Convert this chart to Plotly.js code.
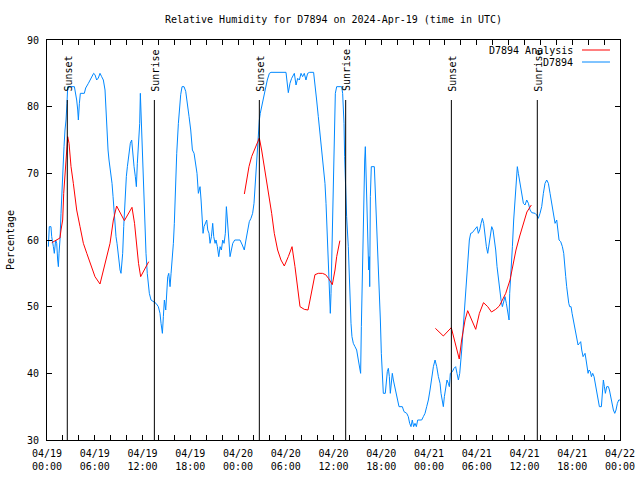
<!DOCTYPE html>
<html><head><meta charset="utf-8">
<script src="https://cdn.plot.ly/plotly-3.0.1.min.js"></script>
<style>html,body{margin:0;padding:0;background:#fff}#chart{width:640px;height:480px}</style>
</head><body><div id="chart"></div>
<script>
// Hours since 2024-04-19 00:00 UTC
const obsHours = [0.17,0.29,0.5,0.59,0.8,0.92,1.09,1.22,1.34,1.43,1.51,1.63,1.76,1.84,1.97,2.05,2.14,2.26,2.39,2.51,2.6,3.44,3.52,3.73,3.86,3.94,4.07,4.19,4.69,4.86,5.2,5.61,5.86,6.03,6.24,6.45,6.66,6.87,7.08,7.29,7.42,7.54,7.67,7.79,7.92,8.04,8.17,8.3,8.42,8.55,8.67,8.8,8.92,9.05,9.18,9.3,9.39,9.51,9.64,9.72,9.85,9.97,10.1,10.22,10.35,10.47,10.64,10.77,10.94,11.1,11.23,11.35,11.48,11.65,11.73,11.86,11.98,12.1,12.23,12.32,12.44,12.6,12.74,12.86,13.07,13.28,13.7,13.99,14.2,14.33,14.5,14.62,14.75,14.92,15.04,15.17,15.3,15.46,15.59,15.75,15.88,16.0,16.13,16.3,16.51,16.63,16.8,16.97,17.22,17.43,17.64,17.85,18.06,18.27,18.48,18.69,18.85,19.02,19.15,19.23,19.36,19.48,19.61,19.73,19.94,20.07,20.2,20.36,20.49,20.66,20.82,20.95,21.12,21.24,21.41,21.58,21.75,21.91,22.08,22.25,22.41,22.54,22.67,22.83,23.0,23.17,23.34,23.59,24.25,24.54,24.79,25.0,25.21,25.42,25.63,25.84,26.01,26.13,26.26,26.43,26.55,26.68,26.8,26.97,27.14,27.31,27.47,27.68,27.94,28.15,30.03,30.2,30.32,30.53,30.74,31.08,31.29,31.5,31.71,31.92,32.12,32.33,32.54,32.75,33.0,33.5,33.67,33.88,34.09,34.3,34.51,34.72,34.93,35.06,35.18,35.27,35.35,35.52,35.6,35.69,35.77,35.9,36.02,36.1,36.23,36.4,37.03,37.15,37.32,37.4,37.49,37.65,37.86,37.99,38.07,38.2,38.32,38.49,38.7,38.91,39.12,39.29,39.41,39.5,39.62,39.71,39.79,39.92,40.0,40.08,40.21,40.34,40.42,40.5,40.55,40.63,40.75,41.13,41.26,41.38,41.55,41.72,41.89,42.01,42.14,42.26,42.51,42.64,42.76,42.89,43.02,43.14,43.27,43.39,43.52,43.69,43.85,44.06,44.23,44.65,44.86,45.2,45.4,45.57,45.74,45.9,46.07,46.24,46.41,46.58,47.08,47.29,47.5,47.71,47.92,48.13,48.34,48.55,48.76,48.97,49.18,49.39,49.51,49.68,49.8,49.93,50.1,50.26,50.43,50.56,50.68,50.94,51.14,51.35,51.52,51.69,51.86,51.98,52.11,52.28,52.44,52.57,52.69,52.82,52.95,53.07,53.24,53.45,53.7,53.87,54.04,54.2,54.37,54.54,54.71,54.87,55.04,55.21,55.38,55.54,55.71,55.88,56.05,56.21,56.38,56.55,56.72,56.88,57.05,57.22,57.39,57.55,57.72,57.89,58.06,58.14,58.31,58.48,58.64,58.81,58.98,59.1,59.23,59.36,59.48,59.65,59.86,60.07,60.28,60.49,60.7,60.91,61.33,61.53,61.74,61.95,62.16,62.37,62.58,62.79,63.0,63.21,63.42,63.63,63.84,64.05,64.17,64.34,64.55,64.76,64.93,65.05,65.18,65.3,65.43,65.56,65.68,65.85,65.98,66.14,66.27,66.4,66.56,66.73,66.9,67.06,67.19,67.36,67.48,67.61,67.74,67.86,67.99,68.11,68.28,68.41,68.57,68.74,68.91,69.08,69.24,69.41,69.66,69.79,69.91,70.04,70.16,70.33,70.54,70.67,70.83,71.0,71.17,71.34,71.5,71.67,71.84,72.0];
const obsValues = [59,62,62,60.5,59,58,60,59.5,57,56,58,60,64,66.5,69,71,74,76.5,78,80.5,83,83,82.5,81,79.5,78,80.5,82,82,82.8,83.5,84.5,85,84.8,84,84.3,85,84.5,84,82.5,79,76,73.5,72,71,70,68.5,66.5,64,62,60.5,59.5,58,57,55.5,55,56,58,62,64,66.5,69.5,71,72.5,73.5,74.5,75,72.5,71,69.5,68,71.5,74,77.5,82,77.5,71,69,64,62,58,55,53.5,52,51,50.8,50.5,50,49,47.5,46,48.5,51,49.5,52,54.5,55,53,55,57,59.5,62.5,68.5,73,77.5,80,81.8,83,83,82.3,80,78.5,76.5,73.5,73,71.5,70,67,67.5,68,66,62.5,61,62,62.8,63,61.5,61,59.5,60.5,62.5,60.5,59.5,60,59,57.5,59,58.5,60,59.5,61,65,63,59.5,57.5,58.5,59.5,60,60,59.25,58.5,60,61.5,62.75,63.25,64,65.5,68,71,74,76,78,79,80,80.75,82,83,84,85,85.15,85.15,83,82.1,83.5,84.25,85,83.25,84.25,84,85,84.5,85,84,85,85.15,85.15,83.5,81,78.5,76,73.5,71.5,68.5,65.5,62,59,55,51,49,52,57,66,72,77,82,83,83,82,77.5,72.5,68.5,63.5,59,54,50,47.5,45.5,44.5,44,43.5,42,41,40,47,54,60.5,69,72,74,70,65,60,55.5,57.5,53,66.5,71,71,67.5,63,59,54,48,43,39.5,37,37,39,40.25,40.75,39.5,37,38.5,40,39,38,37,36,35,35,34.25,34,33.5,32.5,32,33,32,32.5,32,33,33,33.5,34,35,36,37.5,39.5,41,42,41,39.5,38.5,37,36,35,36.5,38,39,38.5,38,40,40.25,40.75,41,40,39,40,42.5,43.5,46.5,49,52,54,56,58,60,61,61.1,61.5,61.75,62,61,61.5,62.5,63.25,62.5,60.5,59,58,59.5,61,62,61.5,60,58.5,56,54,52.5,51,50,51,51.5,50.5,49.5,48,52,55,59,63,66.5,69.5,71,70,69,68,67,65.5,65.25,66,65.5,64.5,64.1,64,63.75,63.25,64,65,67,68.5,69,68.5,67,65.5,64,62.5,63,62,60,59.75,59,58,55.5,54.5,53,51.5,50.5,50,50,49,48,47,46,45,44.25,44.5,44.75,43.5,42.5,42.75,43,42,41,40,40.5,40.25,39.5,40,39.5,38.5,37,36,35,35,37,39,38,37,38,38,37.5,36.5,35.5,34.5,34,34.5,35.5,36,36];

const anaHours = [0.6,1.2,1.63,1.76,1.97,2.1,2.39,2.6,2.77,3.02,3.31,3.73,4.15,4.57,5.0,5.4,6.03,6.66,7.08,7.5,7.92,8.34,8.75,9.72,10.68,11.0,11.27,11.5,11.77,12.3,12.78,
  18,
  24.8,25.09,25.38,25.71,26.05,26.34,26.68,26.97,27.31,27.6,27.89,28.23,28.56,28.98,29.4,29.82,30.32,30.79,31.16,31.41,31.66,31.79,32.33,32.8,33.05,33.34,33.67,34.09,34.6,35.01,35.4,35.85,36.19,36.4,36.8,
  42,
  48.8,49.8,50.8,51.19,51.48,51.8,52.1,52.32,52.53,52.86,53.37,53.87,54.33,54.85,55.38,55.85,56.38,56.84,57.22,57.64,58.18,58.6,58.93,59.4,59.86,60.3,60.86];
const anaValues = [59.6,60,60.3,61.5,63,67,72.5,75.5,74.5,71,68.5,64.5,62,59.5,58,56.5,54.5,53.4,55.5,57.5,59.5,63,65.1,62.9,64.9,62.5,59,56.5,54.5,55.7,56.75,
  null,
  66.9,69,71,72.5,73.5,74.5,75.3,73.5,71,69,67,64,61,58.5,57,56.1,57.5,59,56,53.5,51.5,50,49.6,49.5,51,53,54.8,55,55,54.8,54.2,53.3,55.5,57.5,59.9,
  null,
  46.75,45.6,46.85,45,43.5,42.15,45,46.5,48,49.4,48,46.6,49,50.6,50,49.2,49.6,50.1,51,52,54,56.5,58.5,60.6,62.6,64.2,65.25];

const sunHours = [2.55, 13.49, 26.68, 37.53, 50.81, 61.61];
const sunLabels = ['Sunset', 'Sunrise', 'Sunset', 'Sunrise', 'Sunset', 'Sunrise'];
const sunLineTop = 81;

const xTickLabels = ['04/19<br>00:00','04/19<br>06:00','04/19<br>12:00','04/19<br>18:00','04/20<br>00:00','04/20<br>06:00','04/20<br>12:00','04/20<br>18:00','04/21<br>00:00','04/21<br>06:00','04/21<br>12:00','04/21<br>18:00','04/22<br>00:00'];
const yTickValues = [30,40,50,60,70,80,90];

const seriesNames = ['D7894 Analysis', 'D7894'];
const seriesColors = ['#ff0000', '#0088ff'];

const FONT = {family: '"DejaVu Sans Mono", "Liberation Mono", monospace', size: 10, color: '#000'};

const tickVals = [], tickText = [];
for (let h = 0; h <= 72; h += 2) {
  tickVals.push(h);
  tickText.push(h % 6 === 0 ? xTickLabels[h / 6] : '');
}

const sunX = [], sunY = [];
sunHours.forEach(h => { sunX.push(h, h, null); sunY.push(30, sunLineTop, null); });

const traces = [
  {x: obsHours, y: obsValues, type: 'scatter', mode: 'lines', name: seriesNames[1],
   line: {color: seriesColors[1], width: 1}},
  {x: anaHours, y: anaValues, type: 'scatter', mode: 'lines', name: seriesNames[0],
   line: {color: seriesColors[0], width: 1}, connectgaps: false},
  {x: sunX, y: sunY, type: 'scatter', mode: 'lines', name: 'sun',
   line: {color: '#000', width: 1}, hoverinfo: 'skip'}
];

const annotations = sunHours.map((h, i) => ({
  x: h, y: sunLineTop + 1, xref: 'x', yref: 'y', text: sunLabels[i],
  textangle: -90, showarrow: false, xanchor: 'center', yanchor: 'bottom',
  xshift: 1, font: FONT
}));

// gnuplot-style key: text right-aligned, sample line to its right
const keyRows = [0.975, 0.945];
const shapes = [];
seriesNames.forEach((n, i) => {
  annotations.push({x: 0.922, y: keyRows[i], xref: 'paper', yref: 'paper', text: n,
    showarrow: false, xanchor: 'right', yanchor: 'middle', font: FONT});
  shapes.push({type: 'line', xref: 'paper', yref: 'paper', x0: 0.9337, x1: 0.9825,
    y0: keyRows[i], y1: keyRows[i], line: {color: seriesColors[i], width: 1}});
});

const layout = {
  width: 640, height: 480,
  margin: {l: 47, r: 20, t: 40, b: 40, pad: 0},
  paper_bgcolor: '#fff', plot_bgcolor: '#fff',
  showlegend: false,
  font: FONT,
  title: {text: 'Relative Humidity for D7894 on 2024-Apr-19 (time in UTC)', font: FONT,
    x: 0.5, xref: 'paper', xanchor: 'center', y: 1 - 19 / 480, yref: 'container', yanchor: 'middle'},
  xaxis: {range: [0, 72], tickmode: 'array', tickvals: tickVals, ticktext: tickText,
    ticks: 'inside', ticklen: 5, tickcolor: '#000', showline: true, linecolor: '#000', linewidth: 1,
    mirror: 'allticks', showgrid: false, zeroline: false, tickfont: FONT, ticklabelstandoff: 4},
  yaxis: {range: [30, 90], tickmode: 'array', tickvals: yTickValues,
    ticks: 'inside', ticklen: 5, tickcolor: '#000', showline: true, linecolor: '#000', linewidth: 1,
    mirror: 'allticks', showgrid: false, zeroline: false, tickfont: FONT, ticklabelstandoff: 5,
    title: {text: 'Percentage', font: FONT, standoff: 10}},
  annotations: annotations,
  shapes: shapes
};

Plotly.newPlot('chart', traces, layout, {staticPlot: true, displayModeBar: false});
</script>
</body></html>
